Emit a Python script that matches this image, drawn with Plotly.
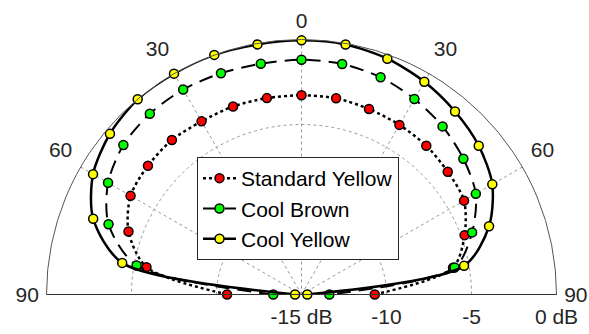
import plotly.graph_objects as go

angles = [-90, -80, -70, -60, -50, -40, -30, -20, -10, 0, 10, 20, 30, 40, 50, 60, 70, 80, 90]

standard_yellow = [-10.62, -5.74, -4.17, -3.39, -3.21, -3.14, -3.24, -3.23, -3.27, -3.28,
                   -3.28, -3.39, -3.48, -3.58, -3.77, -3.96, -4.79, -5.95, -10.69]
cool_brown = [-13.34, -5.15, -2.92, -1.86, -1.32, -1.12, -1.08, -1.15, -1.22, -1.19,
              -1.23, -1.40, -1.72, -2.09, -2.57, -3.16, -4.32, -5.86, -13.36]
cool_yellow = [-14.62, -4.29, -1.96, -0.84, -0.29, -0.01, 0.0, 0.0, -0.06, -0.05,
               -0.07, -0.24, -0.55, -0.95, -1.39, -2.04, -3.26, -5.29, -14.66]

# angular grid / labels
angle_tickvals = [-90, -60, -30, 0, 30, 60, 90]
angle_main_text = ["90", "", "", "0", "", "", "90"]
angle_diag_vals = [-60, -30, 30, 60]
angle_diag_text = ["60", "30", "30", "60"]
radial_tickvals = [-15, -10, -5, 0]
radial_ticktext = ["-15 dB", "-10", "-5", "0 dB"]

series = [
    ("Standard Yellow", standard_yellow, "#FF0000", "dot", 2.5),
    ("Cool Brown", cool_brown, "#00FF00", "14px,8px", 2),
    ("Cool Yellow", cool_yellow, "#FFFF00", "solid", 2.5),
]

fig = go.Figure()
for name, vals, col, dash, lw in series:
    fig.add_trace(go.Scatterpolar(
        r=vals, theta=angles, name=name, mode="lines+markers",
        line=dict(color="black", width=lw, dash=dash, shape="spline", smoothing=0.8),
        marker=dict(color=col, size=9, line=dict(color="black", width=1.5)),
        subplot="polar",
    ))

# empty traces to instantiate overlay subplots (left baseline, diagonal labels)
for sp in ["polar2", "polar3"]:
    fig.add_trace(go.Scatterpolar(r=[None], theta=[None], subplot=sp, showlegend=False,
                                  hoverinfo="skip"))

FONT = "Liberation Sans, Arial, sans-serif"
W, H = 589, 334
dom_x = [46.5 / W, 556.5 / W]
dom_y = [39.5 / H, 294.5 / H]
shift = 9
dom_y3 = [(39.5 + shift) / H, (294.5 + shift) / H]

fig.update_layout(
    width=W, height=H,
    margin=dict(l=0, r=0, t=0, b=0),
    paper_bgcolor="white",
    font=dict(family=FONT, size=21, color="#262626"),
    polar=dict(
        domain=dict(x=dom_x, y=dom_y),
        sector=[0, 180],
        bgcolor="white",
        angularaxis=dict(
            rotation=90, direction="clockwise",
            tickmode="array", tickvals=angle_tickvals, ticktext=angle_main_text,
            showline=True, linecolor="#555555", linewidth=1,
            showgrid=True, gridcolor="#9a9a9a", griddash="dot", gridwidth=1,
            ticks="outside", ticklen=3, tickcolor="rgba(0,0,0,0)",
            tickfont=dict(size=21, color="#262626", family=FONT),
        ),
        radialaxis=dict(
            range=[-15, 0], angle=0, side="clockwise",
            tickmode="array", tickvals=radial_tickvals, ticktext=radial_ticktext,
            showline=True, linecolor="#333333", linewidth=1,
            showgrid=True, gridcolor="#9a9a9a", griddash="dot", gridwidth=1,
            ticks="outside", ticklen=4, tickcolor="rgba(0,0,0,0)",
            tickfont=dict(size=21, color="#262626", family=FONT),
        ),
    ),
    polar2=dict(
        domain=dict(x=dom_x, y=dom_y),
        sector=[0, 180],
        bgcolor="rgba(0,0,0,0)",
        angularaxis=dict(rotation=90, direction="clockwise", visible=False),
        radialaxis=dict(range=[-15, 0], angle=180, showline=True, linecolor="#333333",
                        linewidth=1, showgrid=False, showticklabels=False, ticks=""),
    ),
    polar3=dict(
        domain=dict(x=dom_x, y=dom_y3),
        sector=[0, 180],
        bgcolor="rgba(0,0,0,0)",
        angularaxis=dict(
            rotation=90, direction="clockwise",
            tickmode="array", tickvals=angle_diag_vals, ticktext=angle_diag_text,
            showline=False, showgrid=False,
            ticks="outside", ticklen=5, tickcolor="rgba(0,0,0,0)",
            tickfont=dict(size=21, color="#262626", family=FONT),
        ),
        radialaxis=dict(range=[-15, 0], visible=False),
    ),
    legend=dict(
        x=197 / W, y=(H - 157) / H, xanchor="left", yanchor="top",
        bgcolor="white", bordercolor="#262626", borderwidth=1,
        font=dict(size=21, color="black", family=FONT),
        tracegroupgap=0, itemwidth=33,
    ),
)

fig.write_html("out.html")
